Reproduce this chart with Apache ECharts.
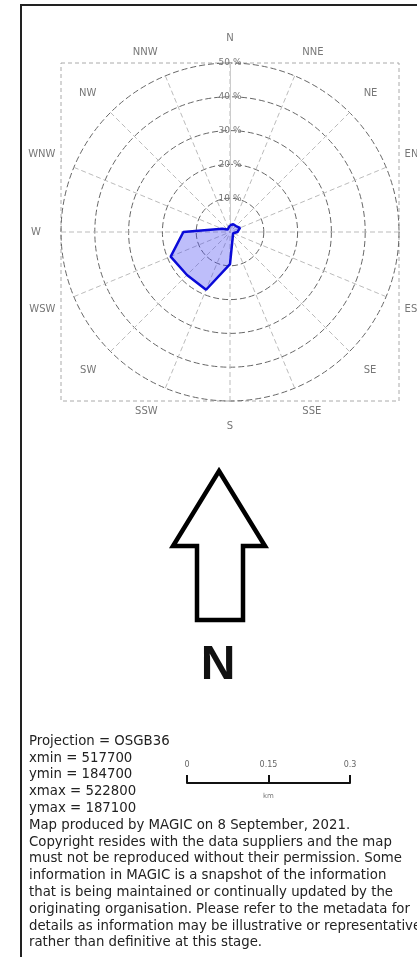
<!DOCTYPE html>
<html>
<head>
<meta charset="utf-8">
<script src="https://cdn.jsdelivr.net/npm/echarts@6/dist/echarts.min.js"></script>
<style>
  html, body { margin: 0; padding: 0; background: #fff; overflow: hidden; }
  #rose { width: 417px; height: 957px; }
</style>
</head>
<body>
<div id="rose"></div>
<script>
// wind directions, clockwise from north
const directions = ['N', 'NNE', 'NE', 'ENE', 'E', 'ESE', 'SE', 'SSE',
                    'S', 'SSW', 'SW', 'WSW', 'W', 'WNW', 'NW', 'NNW'];
// frequency per direction (%)
const frequency = [2, 2.5, 2.5, 3.2, 2.2, 1, 0.6, 1,
                   9.5, 18.5, 18, 19, 13.8, 2.5, 1, 1];
// ring ticks (%)
const ringMax = 50;
const ringStep = 10;
// scale bar ticks (km)
const scaleTicks = [0, 0.15, 0.3];

const metaLines = [
    'Projection = OSGB36',
    'xmin = 517700',
    'ymin = 184700',
    'xmax = 522800',
    'ymax = 187100',
    'Map produced by MAGIC on 8 September, 2021.',
    'Copyright resides with the data suppliers and the map',
    'must not be reproduced without their permission. Some',
    'information in MAGIC is a snapshot of the information',
    'that is being maintained or continually updated by the',
    'originating organisation. Please refer to the metadata for',
    'details as information may be illustrative or representative',
    'rather than definitive at this stage.'
];

const CX = 230, CY = 232, R = 169;
const step = 360 / directions.length;

// close the loop back to north
const roseData = frequency.map((v, i) => [v, i * step]);
roseData.push([frequency[0], 360]);

const chart = echarts.init(document.getElementById('rose'));
chart.setOption({
    animation: false,
    polar: { center: [CX, CY], radius: R },
    angleAxis: {
        type: 'value',
        min: 0,
        max: 360,
        interval: step,
        startAngle: 90,
        clockwise: true,
        axisLine: { show: false },
        axisTick: { show: false },
        axisLabel: {
            formatter: v => directions[Math.round(v / step) % directions.length],
            color: '#777', fontSize: 10, margin: 20, fontFamily: 'DejaVu Sans'
        },
        splitLine: { show: true, lineStyle: { color: '#bbb', type: [5, 3] } }
    },
    radiusAxis: {
        min: 0,
        max: ringMax,
        interval: ringStep,
        axisLine: { show: true, lineStyle: { color: '#ccc' } },
        axisTick: { show: false },
        axisLabel: {
            formatter: v => (v ? v + ' %' : ''),
            color: '#777',
            fontSize: 9,
            fontFamily: 'DejaVu Sans',
            margin: 0,
            align: 'center',
            verticalAlign: 'middle'
        },
        splitLine: { show: true, lineStyle: { color: '#666', type: [6, 3] } }
    },
    grid: { left: 187, width: 163, top: 700, height: 83 },
    xAxis: {
        type: 'value',
        min: scaleTicks[0],
        max: scaleTicks[scaleTicks.length - 1],
        interval: scaleTicks[1] - scaleTicks[0],
        axisLine: { show: true, lineStyle: { color: '#111', width: 2 } },
        axisTick: { show: true, inside: true, length: 8, lineStyle: { color: '#111', width: 2 } },
        axisLabel: { inside: true, margin: 14, fontSize: 8, color: '#666', fontFamily: 'DejaVu Sans' },
        splitLine: { show: false },
        name: 'km',
        nameLocation: 'middle',
        nameGap: 10,
        nameTextStyle: { fontSize: 7, color: '#777', fontFamily: 'DejaVu Sans' }
    },
    yAxis: { show: false, min: 0, max: 1 },
    graphic: [
        {
            type: 'rect', z: -1,
            shape: { x: 21, y: 5, width: 500, height: 1000 },
            style: { fill: null, stroke: '#222', lineWidth: 2 }
        },
        {
            type: 'rect', z: -1,
            shape: { x: CX - R, y: CY - R, width: 2 * R, height: 2 * R },
            style: { fill: null, stroke: '#aaa', lineDash: [4, 3] }
        },
        {
            type: 'polygon',
            shape: { points: [[219, 471], [265, 546], [243, 546], [243, 620],
                              [197, 620], [197, 546], [173, 546]] },
            style: { fill: '#fff', stroke: '#000', lineWidth: 4.5, lineJoin: 'miter' }
        },
        {
            type: 'text', x: 218, y: 666,
            style: {
                text: 'N', fill: '#111',
                font: 'bold 48px "Liberation Sans", Arial, sans-serif',
                textAlign: 'center', textVerticalAlign: 'middle'
            }
        },
        {
            type: 'text', x: 29, y: 733,
            style: {
                text: metaLines.join('\n'),
                fill: '#222',
                fontSize: 13.3,
                fontFamily: 'DejaVu Sans',
                lineHeight: 16.8
            }
        }
    ],
    series: [
        {
            type: 'line',
            coordinateSystem: 'polar',
            data: roseData,
            symbol: 'none',
            lineStyle: { color: '#0a0ad8', width: 2.5 },
            areaStyle: { color: 'rgba(70, 70, 240, 0.5)' }
        }
    ]
});
</script>
</body>
</html>
